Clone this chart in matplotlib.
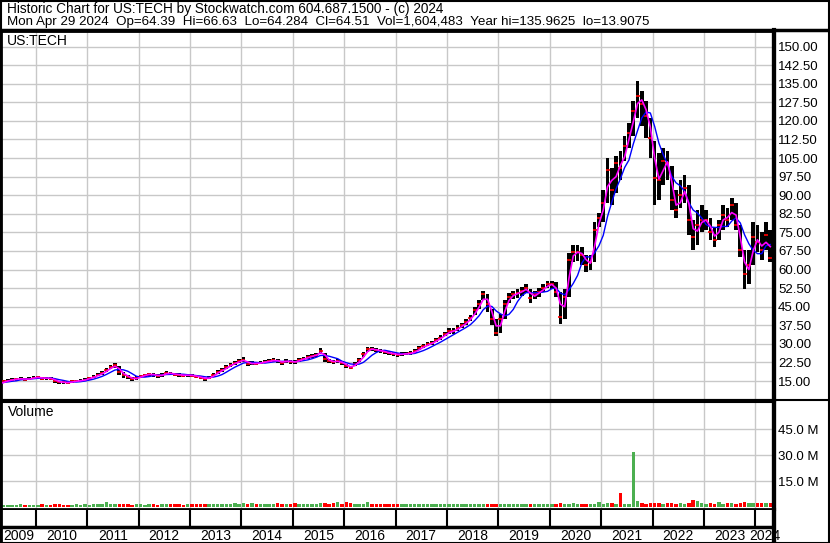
import numpy as np
import pandas as pd
import matplotlib
matplotlib.use('Agg')
import matplotlib.pyplot as plt
from matplotlib.lines import Line2D
from matplotlib.patches import Rectangle

plt.rcParams['font.family'] = ['Liberation Sans', 'DejaVu Sans']

# =====================================================
# DATA (monthly)
# =====================================================

months = pd.period_range('2009-04', '2024-04', freq='M')

close = [
    14.0, 14.8, 15.2, 15.6, 15.8, 16.0, 15.6, 15.9, 16.4,                    # 2009
    16.5, 16.0, 16.2, 16.0, 15.0, 14.5, 14.4, 14.3, 14.8, 15.0, 15.2, 15.6,  # 2010
    16.2, 16.7, 17.6, 18.2, 19.5, 20.6, 21.3, 18.7, 17.4, 16.7, 15.7, 16.1,  # 2011
    17.0, 17.4, 17.8, 17.5, 17.0, 17.5, 18.3, 18.0, 17.6, 17.5, 17.2, 17.4,  # 2012
    17.2, 16.8, 16.4, 15.8, 16.4, 17.5, 18.8, 19.5, 20.6, 21.6, 22.4, 23.0,  # 2013
    23.6, 21.8, 22.2, 22.0, 22.4, 22.8, 23.0, 23.4, 23.0, 22.4, 23.2, 22.8,  # 2014
    22.6, 23.6, 24.0, 24.6, 25.2, 25.6, 27.2, 24.0, 23.0, 22.8, 23.0, 22.2,  # 2015
    21.0, 20.4, 22.0, 23.4, 25.8, 28.0, 27.8, 27.4, 27.2, 26.6, 26.2, 26.0,  # 2016
    25.5, 26.0, 26.0, 26.2, 27.0, 28.2, 29.0, 29.8, 30.5, 31.6, 32.5, 34.0,  # 2017
    35.0, 35.2, 36.5, 37.5, 39.0, 40.6, 43.5, 46.0, 50.0, 46.0, 40.0, 34.5,  # 2018
    40.0, 46.0, 49.0, 50.0, 50.5, 51.5, 52.5, 48.5, 50.0, 51.0, 52.5, 54.0,  # 2019
    54.0, 51.0, 41.0, 49.0, 64.0, 67.0, 67.0, 66.0, 62.0, 63.0, 76.0, 81.0,  # 2020
    87, 100, 92, 103, 101, 110, 115, 124, 130, 127, 122, 113,                # 2021
    97, 96, 104, 103, 88, 84, 90, 93, 80, 73, 78, 80,                        # 2022
    80, 75, 72, 78, 82, 80, 86, 78, 68, 58, 62, 73,                          # 2023
    71, 68, 74, 64.5,                                                        # 2024
]

high = [
    14.8, 15.4, 15.8, 16.2, 16.4, 16.6, 16.3, 16.5, 17.0,
    17.0, 16.6, 16.8, 16.7, 16.0, 15.2, 15.0, 14.9, 15.4, 15.6, 15.8, 16.2,
    16.8, 17.3, 18.2, 18.9, 20.2, 21.4, 22.2, 21.0, 18.5, 17.6, 16.8, 16.9,
    17.6, 18.0, 18.4, 18.2, 17.7, 18.1, 19.0, 18.6, 18.2, 18.1, 17.8, 18.0,
    17.8, 17.4, 17.0, 16.4, 17.0, 18.2, 19.5, 20.2, 21.3, 22.3, 23.2, 23.8,
    24.6, 23.2, 22.9, 22.7, 23.1, 23.5, 23.7, 24.1, 23.7, 23.2, 23.9, 23.6,
    23.4, 24.3, 24.8, 25.4, 25.9, 26.4, 28.2, 26.5, 24.0, 23.6, 23.8, 23.1,
    22.0, 21.2, 22.8, 24.2, 26.8, 28.8, 28.7, 28.2, 28.0, 27.4, 27.0, 26.8,
    26.4, 26.8, 26.8, 27.0, 27.9, 29.0, 29.8, 30.6, 31.3, 32.5, 33.4, 34.8,
    36.2, 36.5, 37.6, 38.6, 40.2, 41.8, 44.8, 47.5, 51.5, 50.0, 44.0, 40.0,
    42.0, 47.5, 50.5, 51.5, 52.0, 53.0, 54.0, 52.0, 51.5, 52.5, 54.0, 55.5,
    55.5, 55.0, 51.0, 52.0, 66.5, 70.0, 70.0, 69.0, 66.0, 66.0, 79.0, 83.0,
    92, 105, 101, 106, 108, 114, 119, 128, 136, 132, 128, 121,
    112, 107, 109, 108, 102, 92, 96, 98, 94, 80, 84, 86,
    84, 81, 77, 80, 86, 85, 89, 87, 78, 68, 68, 79,
    78, 75, 79, 76,
]

low = [
    13.9, 14.0, 14.6, 14.9, 15.2, 15.4, 15.0, 15.3, 15.8,
    15.9, 15.4, 15.6, 15.4, 14.3, 13.9, 13.9, 13.9, 14.2, 14.5, 14.7, 15.1,
    15.6, 16.1, 16.9, 17.5, 18.7, 19.8, 20.3, 17.5, 16.4, 15.9, 15.0, 15.4,
    16.3, 16.8, 17.2, 16.8, 16.3, 16.8, 17.6, 17.3, 16.9, 16.8, 16.5, 16.7,
    16.6, 16.2, 15.8, 15.2, 15.8, 16.8, 18.0, 18.8, 19.9, 20.8, 21.6, 22.2,
    22.6, 21.0, 21.5, 21.3, 21.7, 22.1, 22.3, 22.7, 22.2, 21.5, 22.4, 22.0,
    21.9, 22.8, 23.2, 23.8, 24.4, 24.8, 25.8, 22.5, 22.2, 22.0, 22.2, 21.3,
    20.2, 19.7, 21.0, 22.6, 24.8, 26.6, 27.0, 26.6, 26.4, 25.8, 25.4, 25.2,
    24.8, 25.2, 25.3, 25.4, 26.2, 27.4, 28.2, 29.0, 29.7, 30.8, 31.6, 33.0,
    34.0, 33.8, 35.2, 36.2, 37.8, 39.4, 41.8, 44.2, 47.5, 43.0, 37.5, 33.0,
    34.5, 40.0, 46.5, 48.2, 48.5, 49.5, 50.5, 46.5, 48.0, 49.0, 51.0, 52.5,
    52.0, 49.0, 38.0, 40.0, 49.0, 63.0, 63.5, 62.0, 59.0, 60.0, 63.0, 77.0,
    79, 87, 86, 91, 96, 104, 109, 114, 121, 118, 113, 105,
    86, 88, 94, 96, 84, 81, 85, 87, 74, 68, 70, 75,
    76, 72, 69, 72, 76, 77, 80, 76, 65, 52, 54, 62,
    67, 64, 68, 63,
]

# volume in millions of shares
volume = [
    1.5, 1.4, 1.3, 1.4, 1.3, 1.5, 1.4, 1.3, 1.4,
    1.4, 1.5, 1.3, 1.4, 2.0, 1.5, 1.4, 1.3, 1.4, 1.5, 1.4, 1.5,
    1.4, 1.5, 1.6, 1.7, 2.9, 1.6, 1.5, 1.8, 1.6, 1.5, 1.4, 1.6,
    1.5, 1.4, 1.6, 1.5, 1.4, 1.7, 1.5, 1.6, 1.8, 1.5, 1.4, 1.6,
    1.5, 1.6, 1.7, 1.5, 2.0, 1.8, 1.6, 1.9, 1.7, 1.6, 2.4, 2.0,
    2.6, 1.9, 2.1, 1.8, 1.6, 2.0, 1.9, 1.8, 2.6, 2.0, 1.8, 1.9,
    2.5, 1.8, 1.7, 1.6, 1.9, 1.8, 2.4, 2.2, 1.8, 2.1, 2.8, 1.9,
    2.8, 2.2, 2.0, 1.8, 1.9, 2.8, 1.8, 1.6, 1.7, 1.6, 1.5, 1.8,
    1.6, 1.8, 1.5, 1.9, 1.6, 1.5, 1.7, 1.6, 1.8, 1.5, 1.6, 1.7,
    1.5, 1.6, 1.7, 1.8, 1.6, 2.0, 1.7, 1.6, 1.8, 1.9, 1.7, 1.8,
    1.8, 1.7, 1.6, 1.8, 1.6, 1.7, 2.0, 1.8, 1.6, 1.7, 1.6, 1.8,
    1.7, 1.9, 2.1, 2.0, 1.8, 2.1, 1.9, 2.0, 1.8, 1.9, 1.8, 3.0,
    2.0, 2.2, 2.1, 1.8, 8.3, 2.0, 1.9, 32.0, 3.2, 2.1, 2.0, 2.2,
    2.1, 2.4, 2.0, 2.2, 2.1, 1.9, 2.3, 2.0, 2.2, 3.8, 3.2, 2.1,
    2.0, 2.1, 1.9, 2.8, 2.0, 2.2, 2.1, 1.9, 2.3, 2.9, 2.2, 2.1,
    2.2, 2.4, 2.3, 2.2,
]

years = list(range(2009, 2025))
price_ticks = [15.0, 22.5, 30.0, 37.5, 45.0, 52.5, 60.0, 67.5, 75.0, 82.5,
               90.0, 97.5, 105.0, 112.5, 120.0, 127.5, 135.0, 142.5, 150.0]
vol_ticks = [15, 30, 45]

header1 = 'Historic Chart for US:TECH by Stockwatch.com 604.687.1500 - (c) 2024'
header2 = ('Mon Apr 29 2024  Op=64.39  Hi=66.63  Lo=64.284  Cl=64.51  '
           'Vol=1,604,483  Year hi=135.9625  lo=13.9075')
symbol = 'US:TECH'

# =====================================================
# PREP
# =====================================================

df = pd.DataFrame({'close': close, 'high': high, 'low': low, 'volume': volume})
df['t'] = months.year + (months.month - 0.5) / 12
df['ma_short'] = df['close'].rolling(2, min_periods=1).mean()
df['ma_long'] = df['close'].rolling(5, min_periods=1).mean()
chg = df['close'].diff().fillna(1)
vol_colors = np.where(chg >= 0, '#4caf50', '#ff0000')

# =====================================================
# FIGURE
# =====================================================

W, H = 830, 543
fig = plt.figure(figsize=(W / 100, H / 100), dpi=100)
fig.patch.set_facecolor('white')


def box(x0, y0, x1, y1):
    return [x0 / W, 1 - y1 / H, (x1 - x0) / W, (y1 - y0) / H]


xmin = 2010 + (1 - 35.7) / 51.4
xmax = 2010 + (774 - 35.7) / 51.4
grid_c = '#c8c8c8'
fs = 9.8
tfs = 9.5

ax_p = fig.add_axes(box(1, 31, 774, 400))
ax_v = fig.add_axes(box(1, 402, 774, 509))
ax_t = fig.add_axes(box(1, 510, 774, 543))

# ---- price panel ----
ax_p.bar(df['t'], df['high'] - df['low'], bottom=df['low'],
         width=0.85 / 12, color='black', linewidth=0, zorder=2)
ax_p.plot(df['t'], df['close'], linestyle='none', marker='_',
          color='#ff0000', markersize=3, markeredgewidth=1.2, zorder=3)
ax_p.plot(df['t'], df['ma_long'], color='#0000ff', lw=1, zorder=4)
ax_p.plot(df['t'], df['ma_short'], color='#ff00ff', lw=1.2, zorder=5)

ax_p.set_xlim(xmin, xmax)
ax_p.set_ylim(7.33, 156.3)
ax_p.set_yticks(price_ticks)
ax_p.set_yticklabels([f'{v:.2f}' for v in price_ticks])
ax_p.set_xticks(years[1:])
ax_p.set_xticklabels([])
ax_p.yaxis.tick_right()
ax_p.tick_params(axis='both', length=0, labelsize=tfs, pad=3)
ax_p.grid(True, color=grid_c, lw=1, zorder=0)
ax_p.set_axisbelow(True)

# ---- volume panel ----
ax_v.bar(df['t'], df['volume'], width=0.8 / 12, color=vol_colors,
         linewidth=0, zorder=2)
ax_v.set_xlim(xmin, xmax)
ax_v.set_ylim(-1.15, 60.6)
ax_v.set_yticks(vol_ticks)
ax_v.set_yticklabels([f'{v:.1f} M' for v in vol_ticks])
ax_v.set_xticks(years[1:])
ax_v.set_xticklabels([])
ax_v.yaxis.tick_right()
ax_v.tick_params(axis='both', length=0, labelsize=tfs, pad=3)
ax_v.grid(True, color=grid_c, lw=1, zorder=0)
ax_v.set_axisbelow(True)

# ---- year axis ----
ax_t.set_xlim(xmin, xmax)
ax_t.set_ylim(0, 1)
ax_t.set_xticks([])
ax_t.set_yticks([])
split = 16 / 33
ax_t.vlines(years[1:], split, 1, color='black', lw=1.5)
ax_t.axhline(split, color='black', lw=2.5)
for y in years:
    a = max(y, xmin)
    b = min(y + 1, xmax)
    ax_t.text((a + b) / 2, split / 2 - 0.02, str(y), ha='center',
              va='center', fontsize=10, clip_on=False, zorder=1)

for ax in (ax_p, ax_v, ax_t):
    for s in ax.spines.values():
        s.set_color('black')
    ax.spines['left'].set_linewidth(2)
    ax.spines['right'].set_linewidth(3)
ax_p.spines['top'].set_linewidth(2)
ax_p.spines['bottom'].set_linewidth(1.5)
ax_v.spines['top'].set_linewidth(1.5)
ax_v.spines['bottom'].set_linewidth(2)
ax_t.spines['top'].set_linewidth(0)
ax_t.spines['bottom'].set_linewidth(2)

# ---- frame and header ----
fig.add_artist(Rectangle((0.5 / W, 0.5 / H), 1 - 1.5 / W, 1 - 1.5 / H,
                         transform=fig.transFigure, fill=False,
                         edgecolor='black', lw=1.5))
fig.add_artist(Line2D([0, 1], [1 - 30 / H] * 2, transform=fig.transFigure,
                      color='black', lw=2.5))
fig.add_artist(Line2D([0, 1], [1 - 400 / H] * 2, transform=fig.transFigure,
                      color='black', lw=1.5))
fig.add_artist(Line2D([774 / W] * 2, [0, 1 - 30 / H], transform=fig.transFigure,
                      color='black', lw=3))

fig.text(7 / W, 1 - 9 / H, header1, va='center', ha='left', fontsize=fs)
fig.text(7 / W, 1 - 22 / H, header2, va='center', ha='left', fontsize=9.6)
fig.text(7 / W, 1 - 41 / H, symbol, va='center', ha='left', fontsize=10)
fig.text(8 / W, 1 - 412 / H, 'Volume', va='center', ha='left', fontsize=10)

fig.savefig('out.png', dpi=100)
